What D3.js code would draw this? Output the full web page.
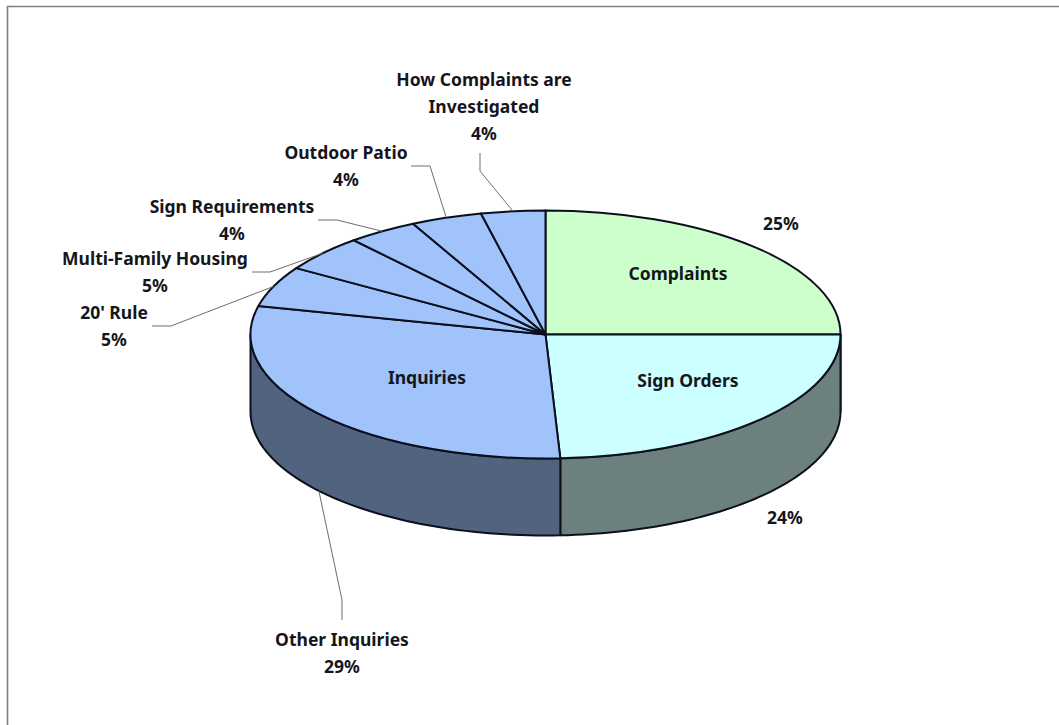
<!DOCTYPE html>
<html>
<head>
<meta charset="utf-8">
<script src="https://cdn.jsdelivr.net/npm/d3@7"></script>
<style>
  html, body { margin: 0; padding: 0; background: #fff; }
  svg { display: block; }
  text { font-family: "Noto Sans", sans-serif; font-weight: 700; font-size: 17.5px; fill: #14161c; text-anchor: middle; }
</style>
</head>
<body>
<svg width="1059" height="725"></svg>
<script>
// slices clockwise from 12 o'clock, shares
let categories = ['Complaints', 'Sign Orders', 'Other Inquiries', "20' Rule", 'Multi-Family Housing', 'Sign Requirements', 'Outdoor Patio', 'How Complaints are Investigated']
let shares = [25, 24.2, 29.49, 5.3, 4.75, 3.85, 3.9, 3.51]
let topColors = ['#ccffcc', '#ccffff', '#9fc3fa', '#9fc3fa', '#9fc3fa', '#9fc3fa', '#9fc3fa', '#9fc3fa']
let sideColors = ['#6c807d', '#6c807d', '#52637f', '#52637f', '#52637f', '#52637f', '#52637f', '#52637f']

// label layout: text lines centre, first line y, leader elbow points
let labelLayout = [
    { lines: [], pct: [781, 224] },
    { lines: [], pct: [785, 518] },
    { lines: ['Other Inquiries'], x: 342, y: 640, leader: [[342, 620], [342, 600]], side: true },
    { lines: ["20' Rule"], x: 114, y: 313, leader: [[152, 326], [171, 326]] },
    { lines: ['Multi-Family Housing'], x: 155, y: 259, leader: [[252, 272], [270, 272]] },
    { lines: ['Sign Requirements'], x: 232, y: 207, leader: [[318, 220], [337, 220]] },
    { lines: ['Outdoor Patio'], x: 346, y: 153, leader: [[411, 166], [430, 166]] },
    { lines: ['How Complaints are', 'Investigated'], x: 484, y: 80, leader: [[480, 153], [480, 171]] }
]
let innerLabels = [
    { text: 'Complaints', x: 678, y: 274 },
    { text: 'Sign Orders', x: 688, y: 381 },
    { text: 'Inquiries', x: 427, y: 378 }
]

let cx = 545.5, cy = 334.5, rx = 295, ry = 124, depth = 77
let lineHeight = 27
let edge = '#0c0f1e'

let svg = d3.select('svg')

// frame of the original picture
svg.append('path')
    .attr('d', 'M7.5,725V6.5H1059')
    .attr('fill', 'none')
    .attr('stroke', '#808080')
    .attr('stroke-width', 1.6)

let slices = d3.pie().sort(null).value(d => d)(shares)

let ex = a => cx + rx * Math.sin(a)
let ey = a => cy - ry * Math.cos(a)

// walls, only the front half of the rim shows
let wallLine = d3.line()
let wall = (a0, a1) => {
    let steps = d3.range(0, 61).map(i => a0 + (a1 - a0) * i / 60)
    let upper = steps.map(a => [ex(a), ey(a)])
    let lower = steps.slice().reverse().map(a => [ex(a), ey(a) + depth])
    return wallLine(upper.concat(lower)) + 'Z'
}

svg.append('g').selectAll('path.wall')
    .data(slices.filter(d => d.startAngle < 1.5 * Math.PI && d.endAngle > Math.PI / 2))
    .enter()
    .append('path')
    .attr('class', 'wall')
    .attr('d', d => wall(Math.max(d.startAngle, Math.PI / 2), Math.min(d.endAngle, 1.5 * Math.PI)))
    .attr('fill', d => sideColors[d.index])
    .attr('stroke', edge)
    .attr('stroke-width', 2)
    .attr('stroke-linejoin', 'round')

// top face: a circle pie squashed into an ellipse
let arc = d3.arc().innerRadius(0).outerRadius(rx)

svg.append('g')
    .attr('transform', `translate(${cx},${cy}) scale(1,${ry / rx})`)
    .selectAll('path.slice')
    .data(slices)
    .enter()
    .append('path')
    .attr('class', 'slice')
    .attr('d', arc)
    .attr('fill', d => topColors[d.index])
    .attr('stroke', edge)
    .attr('stroke-width', 2)
    .attr('stroke-linejoin', 'round')
    .attr('vector-effect', 'non-scaling-stroke')

// leader lines end on the rim at the middle of the slice
let leaderLine = d3.line()
svg.append('g').selectAll('path.leader')
    .data(slices.filter(d => labelLayout[d.index].leader))
    .enter()
    .append('path')
    .attr('class', 'leader')
    .attr('d', d => {
        let mid = (d.startAngle + d.endAngle) / 2
        let tip = [ex(mid), ey(mid) + (labelLayout[d.index].side ? depth : 0)]
        return leaderLine(labelLayout[d.index].leader.concat([tip]))
    })
    .attr('fill', 'none')
    .attr('stroke', '#6e6e6e')
    .attr('stroke-width', 1)

// outer labels with the percentage on the last line
let labels = svg.append('g')
slices.forEach(d => {
    let layout = labelLayout[d.index]
    let pct = Math.round(d.data) + '%'
    if (layout.pct) {
        labels.append('text').attr('x', layout.pct[0]).attr('y', layout.pct[1]).attr('dy', '0.35em').text(pct)
        return
    }
    layout.lines.concat([pct]).forEach((line, i) => {
        labels.append('text')
            .attr('x', layout.x)
            .attr('y', layout.y + i * lineHeight)
            .attr('dy', '0.35em')
            .text(line)
    })
})

labels.selectAll('text.inner')
    .data(innerLabels)
    .enter()
    .append('text')
    .attr('class', 'inner')
    .attr('x', d => d.x)
    .attr('y', d => d.y)
    .attr('dy', '0.35em')
    .text(d => d.text)
</script>
</body>
</html>
